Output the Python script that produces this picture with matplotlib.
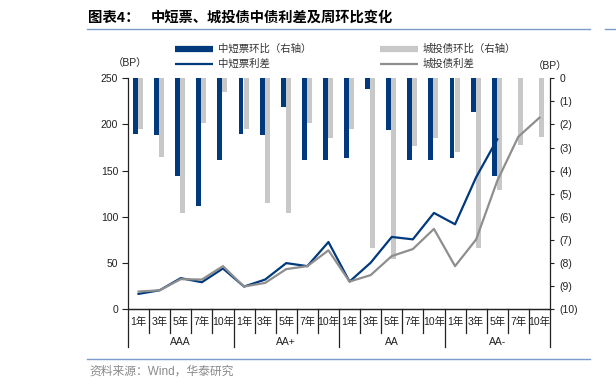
import matplotlib
matplotlib.use("Agg")
import matplotlib.pyplot as plt
from matplotlib.lines import Line2D
from matplotlib.ticker import FuncFormatter
import numpy as np

plt.rcParams['font.family'] = ['Liberation Sans', 'Noto Sans CJK SC', 'DejaVu Sans']

# data
years = ["1年", "3年", "5年", "7年", "10年"]
grades = ["AAA", "AA+", "AA", "AA-"]
mtn_spread = [16.7, 20.6, 33.7, 29.3, 44.2,
              24.6, 32.2, 50.0, 46.7, 72.8,
              30.0, 50.4, 78.3, 75.7, 104.3,
              92.0, 143.0, 184.0, np.nan, np.nan]
cty_spread = [19.2, 20.6, 32.6, 32.2, 46.7,
              24.6, 28.6, 43.5, 46.7, 63.8,
              30.0, 37.0, 57.6, 65.2, 87.0,
              46.7, 75.6, 139.0, 186.8, 207.4]
mtn_chg = [-2.42, -2.47, -4.23, -5.52, -3.52,
           -2.42, -2.47, -1.23, -3.55, -3.52,
           -3.43, -0.48, -2.22, -3.55, -3.52,
           -3.43, -1.47, -4.23, np.nan, np.nan]
cty_chg = [-2.18, -3.39, -5.82, -1.92, -0.58,
           -2.18, -5.38, -5.82, -1.92, -2.57,
           -2.18, -7.36, -7.82, -2.92, -2.57,
           -3.17, -7.36, -4.82, -2.88, -2.55]

navy = "#003a7d"
lgray = "#c8c8c8"
dgray = "#8e8e8e"

W, H = 616, 388
fig = plt.figure(figsize=(W / 100, H / 100), dpi=100)

def fx(x):
    return x / W

def fy(y):
    return 1 - y / H

ax = fig.add_axes([fx(128), fy(309.3), fx(550) - fx(128), fy(78.3) - fy(309.3)])
ax2 = ax.twinx()

n = len(cty_spread)
x = np.arange(n)

ax2.bar(x + 0.355, mtn_chg, width=0.235, color=navy, zorder=2)
ax2.bar(x + 0.595, cty_chg, width=0.235, color=lgray, zorder=2)
ax2.set_ylim(-10, 0)
ax2.set_yticks(np.arange(-10, 1, 1))
ax2.yaxis.set_major_formatter(FuncFormatter(lambda v, p: "0" if v == 0 else "(%d)" % round(-v)))

ax.plot(x + 0.5, mtn_spread, color=navy, lw=1.6, zorder=3)
ax.plot(x + 0.5, cty_spread, color=dgray, lw=1.6, zorder=3)
ax.set_ylim(0, 250)
ax.set_yticks(range(0, 251, 50))
ax.set_xlim(0, n)
ax.set_xticks([])

# lines above the bars
ax.set_zorder(ax2.get_zorder() + 1)
ax.patch.set_visible(False)

for a in (ax, ax2):
    a.spines['top'].set_visible(False)
    for s in ('left', 'right', 'bottom'):
        a.spines[s].set_color("#222222")
        a.spines[s].set_linewidth(0.9)
ax.spines['right'].set_visible(False)
ax2.spines['left'].set_visible(False)
ax.tick_params(axis='y', direction='out', length=4, width=0.8, labelsize=7.5, pad=3, colors="#222222")
ax2.tick_params(axis='y', direction='out', length=3, width=0.8, labelsize=7.5, pad=4, colors="#222222")
ax2.set_xticks([])

# two-level category axis
tr = ax.get_xaxis_transform()
for i in range(n):
    ax.text(i + 0.5, -0.054, years[i % 5], transform=tr, ha='center', va='center',
            fontsize=7.5, color="#222222")
for i in range(n + 1):
    low = -0.163 if i % 5 == 0 else -0.103
    ax.add_line(Line2D([i, i], [0, low], transform=tr, color="#222222", lw=0.9, clip_on=False))
for g, name in enumerate(grades):
    ax.text(g * 5 + 2.5, -0.142, name, transform=tr, ha='center', va='center',
            fontsize=7.5, color="#222222")

# titles and frame lines
fig.text(fx(88), fy(18), "图表4：", fontsize=10.4, fontweight='bold', va='center', ha='left',
         family=['Noto Sans CJK SC'])
fig.text(fx(151), fy(18), "中短票、城投债中债利差及周环比变化", fontsize=10.3, fontweight='bold',
         va='center', ha='left', family=['Noto Sans CJK SC'])
fig.add_artist(Line2D([fx(87), fx(590)], [fy(29), fy(29)], color="#7b9cc8", lw=1.0))
fig.add_artist(Line2D([fx(87), fx(590)], [fy(358.5), fy(358.5)], color="#7b9cc8", lw=1.0))
fig.add_artist(Line2D([fx(605), fx(616)], [fy(29), fy(29)], color="#7b9cc8", lw=1.0))
fig.text(fx(89), fy(372), "资料来源：Wind，华泰研究", fontsize=8.5, color="#8a8a8a", va='center', ha='left')

# axis units
fig.text(fx(130), fy(63), "（BP）", fontsize=7.5, ha='center', va='center', color="#222222")
fig.text(fx(550), fy(66), "（BP）", fontsize=7.5, ha='center', va='center', color="#222222")

# legend
leg_items = [
    (175, 48.5, navy, 4.5, "中短票环比（右轴）"),
    (380, 48.5, lgray, 4.5, "城投债环比（右轴）"),
    (175, 63.5, navy, 1.6, "中短票利差"),
    (380, 63.5, dgray, 1.6, "城投债利差"),
]
for lx, ly, c, lw, label in leg_items:
    fig.add_artist(Line2D([fx(lx), fx(lx + 38)], [fy(ly), fy(ly)], color=c, lw=lw,
                          solid_capstyle='butt'))
    fig.text(fx(lx + 43), fy(ly), label, fontsize=7.5, va='center', ha='left', color="#333333")

fig.savefig("out.png", dpi=100)
